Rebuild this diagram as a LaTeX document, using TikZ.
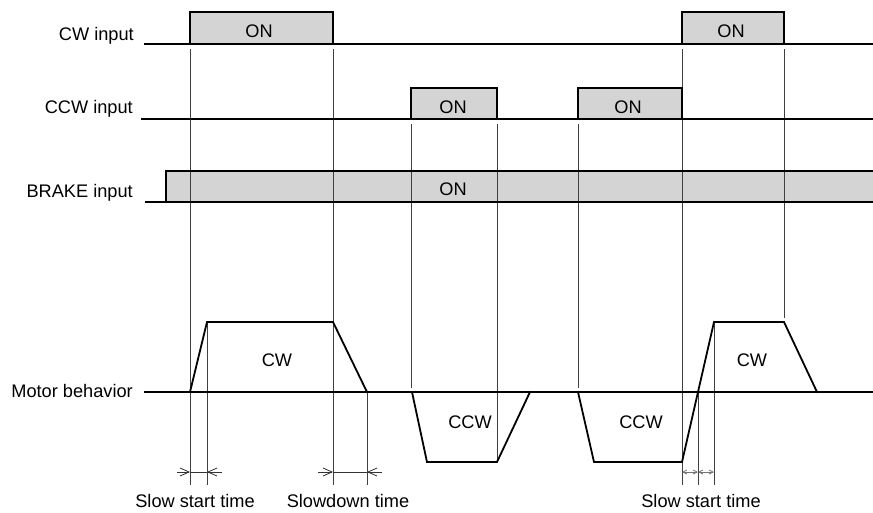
\documentclass[tikz,border=0pt]{standalone}
\usepackage{fontspec}
\setmainfont{Liberation Sans}
\usetikzlibrary{arrows.meta}
\definecolor{pulsefill}{RGB}{212,212,212}
\begin{document}
\begin{tikzpicture}[x=1pt,y=-1pt,
  sig/.style={line width=1.8pt, line join=miter, line cap=rect},
  guide/.style={line width=0.9pt, black!75},
  lbl/.style={inner sep=0pt, font=\fontsize{18.2}{20}\selectfont},
  dim/.style={line width=0.8pt, black!80},
  bigtip/.style={-{Straight Barb[length=9pt,width=8pt]}},
  smalltip/.style={{Straight Barb[length=4pt,width=4pt]}-{Straight Barb[length=4pt,width=4pt]}, black!55},
]
\useasboundingbox (0,0) rectangle (873,512);

% ---- fills
\fill[pulsefill] (190,12) rectangle (333,44);
\fill[pulsefill] (682,12) rectangle (784,44);
\fill[pulsefill] (411,88) rectangle (497,119);
\fill[pulsefill] (578,88) rectangle (682,119);
\fill[pulsefill] (166,171) rectangle (873,202);

% ---- guide lines
\draw[guide] (190,49) -- (190,485);
\draw[guide] (207,322) -- (207,485);
\draw[guide] (333,49) -- (333,485);
\draw[guide] (367,392) -- (367,485);
\draw[guide] (411,124) -- (411,388);
\draw[guide] (497,124) -- (497,462);
\draw[guide] (578,124) -- (578,388);
\draw[guide] (682,49) -- (682,485);
\draw[guide] (698,392) -- (698,485);
\draw[guide] (714,322) -- (714,485);
\draw[guide] (784,49) -- (784,318);

% ---- CW input
\draw[sig] (145,44) -- (873,44);
\draw[sig] (190,44) -- (190,12) -- (333,12) -- (333,44);
\draw[sig] (682,44) -- (682,12) -- (784,12) -- (784,44);
% ---- CCW input
\draw[sig] (142,119) -- (873,119);
\draw[sig] (411,119) -- (411,88) -- (497,88) -- (497,119);
\draw[sig] (578,119) -- (578,88) -- (682,88) -- (682,119);
% ---- BRAKE input
\draw[sig] (146,202) -- (873,202);
\draw[sig] (166,202) -- (166,171) -- (873,171);
% ---- Motor behavior
\draw[sig] (145,392) -- (873,392);
\draw[sig] (190,392) -- (207,322) -- (333,322) -- (367,392);
\draw[sig] (412,392) -- (427,462) -- (497,462) -- (530,392);
\draw[sig] (578,392) -- (594,462) -- (682,462) -- (714,322) -- (784,322) -- (817,392);

% ---- dimension arrows
\draw[dim,bigtip] (177,472) -- (190,472);
\draw[dim] (190,472) -- (207,472);
\draw[dim,bigtip] (222,472) -- (207,472);
\draw[dim,bigtip] (318,472) -- (333,472);
\draw[dim] (333,472) -- (367,472);
\draw[dim,bigtip] (382,472) -- (367,472);
\draw[dim,smalltip] (682,472) -- (698,472);
\draw[dim,smalltip] (698,472) -- (714,472);

% ---- labels
\node[lbl,anchor=base east] (lcw)  at (134,40)  {CW input};
\node[lbl,anchor=base east] (lccw) at (133,113) {CCW input};
\node[lbl,anchor=base east] (lbr)  at (133,197) {BRAKE input};
\node[lbl,anchor=base east] (lmot) at (133,397) {Motor behavior};

\node[lbl,anchor=base] (on1) at (259,37)  {ON};
\node[lbl,anchor=base] (on2) at (731,37)  {ON};
\node[lbl,anchor=base] (on3) at (453,113) {ON};
\node[lbl,anchor=base] (on4) at (628,113) {ON};
\node[lbl,anchor=base] (on5) at (453,195) {ON};

\node[lbl,anchor=base] (m1) at (277,366) {CW};
\node[lbl,anchor=base] (m2) at (752,366) {CW};
\node[lbl,anchor=base] (m3) at (470,428) {CCW};
\node[lbl,anchor=base] (m4) at (641,428) {CCW};

\node[lbl,anchor=base] (t1) at (195,507) {Slow start time};
\node[lbl,anchor=base] (t2) at (348,507) {Slowdown time};
\node[lbl,anchor=base] (t3) at (701,507) {Slow start time};
\end{tikzpicture}
\end{document}
